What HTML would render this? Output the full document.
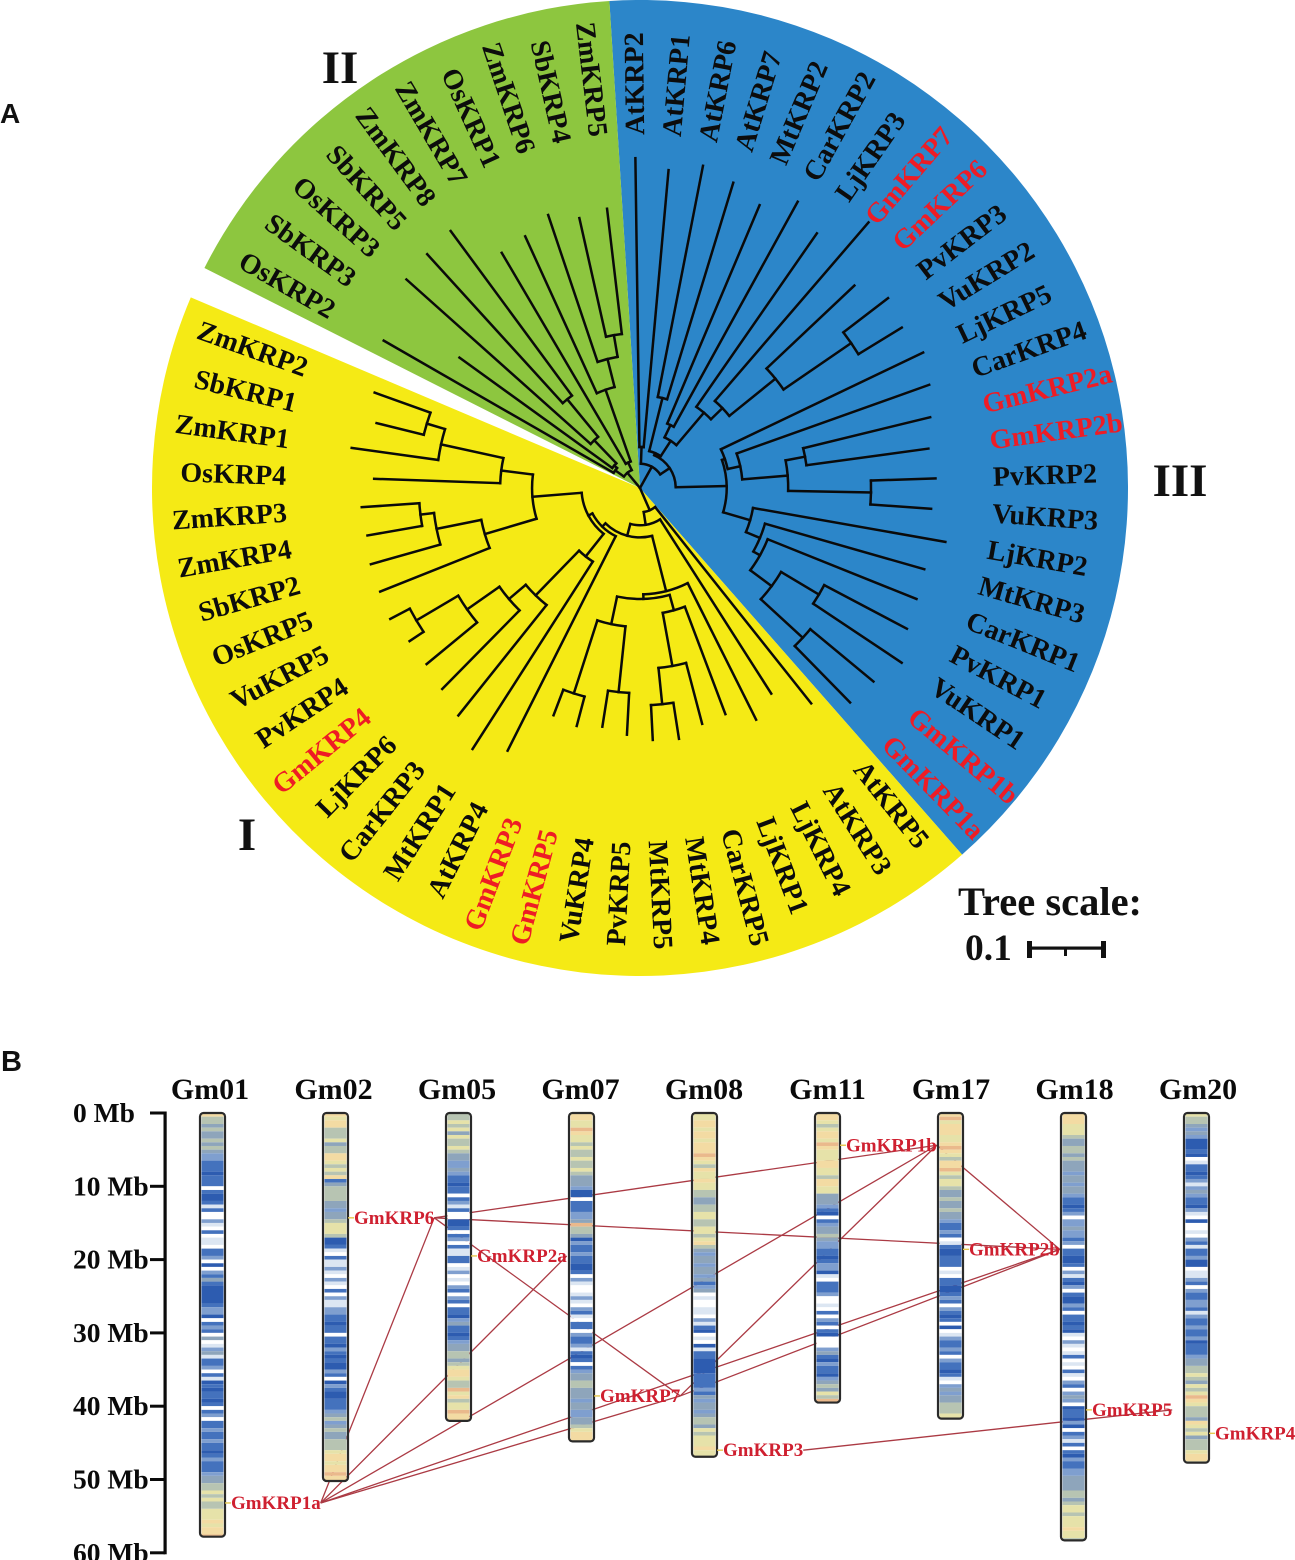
<!DOCTYPE html>
<html lang="en">
<head>
<meta charset="utf-8">
<title>KRP phylogenetic tree and chromosome map</title>
<style>
html,body{margin:0;padding:0;background:#fff;}
svg{display:block;}
text{font-family:"Liberation Serif",serif;font-weight:bold;}
</style>
</head>
<body>
<svg id="figure" xmlns="http://www.w3.org/2000/svg" width="1295" height="1560" viewBox="0 0 1295 1560">
  <rect x="0" y="0" width="1295" height="1560" fill="#fff"/>
  <g id="sectors"></g>
  <g id="branches" fill="none" stroke="#0a0a0a" stroke-width="2.5" stroke-linecap="square"></g>
  <g id="leafLabels" font-size="28"></g>
  <text x="0" y="123" font-size="28" style="font-family:'Liberation Sans',sans-serif" fill="#111">A</text>
  <text x="1" y="1071" font-size="29" style="font-family:'Liberation Sans',sans-serif" fill="#111">B</text>
  <text x="340" y="83" font-size="47" text-anchor="middle" fill="#111">II</text>
  <text x="1180" y="496" font-size="47" text-anchor="middle" fill="#111">III</text>
  <text x="247" y="850" font-size="47" text-anchor="middle" fill="#111">I</text>
  <text x="958" y="915" font-size="40.5" fill="#111">Tree scale:</text>
  <text x="965" y="960" font-size="37.5" fill="#111">0.1</text>
  <g fill="#111">
    <rect x="1027" y="946.5" width="78" height="3.2"/>
    <rect x="1027" y="941" width="5" height="17"/>
    <rect x="1101" y="941" width="5" height="17"/>
    <rect x="1064" y="949" width="3" height="7"/>
  </g>
  <g id="axis"></g>
  <g id="links" fill="none" stroke="#ab3a44" stroke-width="1.3"></g>
  <g id="chromosomes"></g>
  <g id="genes"></g>
</svg>
<script>
/* ---------- Panel A data ---------- */
const leafNames = ["AtKRP2","AtKRP1","AtKRP6","AtKRP7","MtKRP2","CarKRP2","LjKRP3","GmKRP7","GmKRP6","PvKRP3","VuKRP2","LjKRP5","CarKRP4","GmKRP2a","GmKRP2b","PvKRP2","VuKRP3","LjKRP2","MtKRP3","CarKRP1","PvKRP1","VuKRP1","GmKRP1b","GmKRP1a",
"AtKRP5","AtKRP3","LjKRP4","LjKRP1","CarKRP5","MtKRP4","MtKRP5","PvKRP5","VuKRP4","GmKRP5","GmKRP3","AtKRP4","MtKRP1","CarKRP3","LjKRP6","GmKRP4","PvKRP4","VuKRP5","OsKRP5","SbKRP2","ZmKRP4","ZmKRP3","OsKRP4","ZmKRP1","SbKRP1","ZmKRP2",
"OsKRP2","SbKRP3","OsKRP3","SbKRP5","ZmKRP8","ZmKRP7","OsKRP1","ZmKRP6","SbKRP4","ZmKRP5"];
/* root-to-tip distance of every leaf, in tree-scale units */
const leafDistances = [.434,.420,.432,.420,.404,.430,.408,.461,.388,.411,.404,.413,.404,.393,.383,.389,.384,.408,.389,.392,.397,.414,.399,.395,
.362,.321,.341,.318,.321,.334,.332,.325,.318,.324,.320,.387,.408,.383,.371,.364,.364,.371,.368,.368,.364,.367,.350,.383,.357,.371,
.389,.293,.412,.416,.420,.359,.364,.379,.364,.370];
/* tree topology: [node distance, child, child]; an integer child is a leaf index */
const blueClade = [.032,[.054,0,1],[.047,
  [.050,[.122,2,3],[.074,[.092,4,5],[.130,6,[.151,7,[.229,8,[.337,9,10]]]]]],
  [.114,
    [.118,11,[.135,12,[.195,[.221,13,14],[.304,15,16]]]],
    [.151,17,[.171,18,[.181,19,[.216,[.274,20,21],[.291,22,23]]]]]
  ]]];
const yellowClade = [.032,24,[.049,25,[.065,
  [.140,26,[.146,[.167,27,[.238,[.286,29,30],28]],[.183,[.270,31,32],[.284,33,34]]]],
  [.071,35,[.077,
    [.115,36,[.197,37,[.226,38,[.278,39,[.342,40,41]]]]],
    [.142,
      [.184,46,[.268,47,[.293,48,49]]],
      [.213,42,[.273,43,[.291,44,45]]]
    ]]]]]];
const greenClade = [.026,[.040,50,[.045,51,[.087,52,[.151,53,54]]]],[.037,55,[.137,56,[.175,57,[.204,58,59]]]]];
const cladeNames = ["clade-iii-sector","clade-i-sector","clade-ii-sector"];
const cladeStartAngles = [-3.6,138.7,296.8];
const cladeEndAngles = [138.7,293,356.4];
const cladeColors = ["#2c86c9","#f5ea15","#8dc63f"];

/* ---------- Panel B data ---------- */
const axisTicks = [0,10,20,30,40,50,60];
const chromosomeNames = ["Gm01","Gm02","Gm05","Gm07","Gm08","Gm11","Gm17","Gm18","Gm20"];
const chromosomeLengths = [57.8,50.2,42,44.8,46.9,39.5,41.7,58.3,47.7];
/* one digit per 0.5 Mb: gene-density class, see bandPalette */
const bandPalette = ["#ffffff","#dce6f2","#7f9fcf","#4472bd","#2d5cb0","#8ea5bb","#b7c4b2","#e6e2a9","#f3dba3","#eab98c"];
const chromosomeBands = [
"86 65 65 56 56 52 23 33 43 33 03 44 31 30 02 10 30 11 03 32 04 02 35 34 44 44 32 24 03 23 05 01 25 13 32 03 14 34 33 43 03 20 33 23 32 33 43 23 33 25 56 67 67 66 77 78 78 89",
"87 88 66 67 56 68 87 67 68 35 66 66 55 25 56 77 76 44 31 03 11 21 02 10 30 21 12 23 34 33 03 34 23 43 44 23 04 23 44 33 32 56 25 65 56 66 78 87 88 98 8",
"66 76 75 76 67 65 52 25 23 34 33 03 21 30 04 43 03 20 31 13 30 12 01 02 30 23 03 34 25 33 43 25 56 65 67 88 76 69 78 67 79 88",
"88 77 98 77 67 66 76 67 65 55 24 40 33 32 25 96 65 42 33 23 34 43 02 10 01 21 02 31 03 30 23 32 13 43 03 25 56 65 55 25 52 25 56 78 88",
"77 88 78 87 88 89 87 68 77 87 76 65 56 67 76 67 76 78 65 25 52 55 25 32 50 10 01 10 21 34 01 04 13 34 44 43 33 32 35 25 52 56 65 76 77 78 77",
"88 76 78 87 98 77 78 87 76 88 77 55 52 34 03 25 56 52 23 34 32 24 10 33 32 00 10 30 23 03 40 00 25 34 23 34 25 65 76 9",
"89 78 88 77 89 87 68 89 76 77 65 56 55 65 52 33 23 01 34 43 33 01 03 34 43 23 02 34 30 40 12 33 23 02 33 43 10 25 25 56 66 77",
"88 87 77 65 56 65 65 55 25 52 55 23 34 32 02 25 22 32 03 34 43 02 13 42 03 44 23 03 34 34 10 21 01 30 10 31 02 30 25 20 43 34 24 03 21 30 34 23 32 25 55 56 65 67 76 77 78 77 6",
"76 65 25 24 44 34 01 33 43 21 25 23 34 21 04 00 10 23 13 32 44 01 12 30 23 32 23 12 33 23 32 43 33 25 56 67 65 76 79 87 66 65 87 67 56 66 78 87"
];
const geneNames = ["GmKRP1a","GmKRP6","GmKRP2a","GmKRP7","GmKRP3","GmKRP1b","GmKRP2b","GmKRP5","GmKRP4"];
const geneChromosomes = [0,1,2,3,4,5,6,7,8];
const genePositionsMb = [53.2,14.3,19.5,38.6,46,4.4,18.6,40.5,43.7];
const linkSources = ["GmKRP1a","GmKRP1a","GmKRP1a","GmKRP1a","GmKRP1a","GmKRP6","GmKRP6","GmKRP6","GmKRP7","GmKRP7","GmKRP1b","GmKRP3"];
const linkTargets = ["GmKRP6","GmKRP2a","GmKRP1b","GmKRP7","GmKRP2b","GmKRP2b","GmKRP1b","GmKRP7","GmKRP1b","GmKRP2b","GmKRP2b","GmKRP5"];

/* ---------- helpers ---------- */
const SVG_NS = "http://www.w3.org/2000/svg";
const CX = 640, CY = 488, OUTER_R = 488;
const rScale = d => d * 760;               /* 0.1 tree units = 76 px */
const angleScale = i => -0.8 + 5.93 * i + (i >= 50 ? 4.2 : 0);
const polar = (r, a) => {
  const t = a * Math.PI / 180;
  return [CX + r * Math.sin(t), CY - r * Math.cos(t)];
};
const fmt = n => n.toFixed(2);
function make(tag, parent, attrs) {
  const el = document.createElementNS(SVG_NS, tag);
  for (const k in attrs) el.setAttribute(k, attrs[k]);
  parent.appendChild(el);
  return el;
}

/* ---------- sectors ---------- */
const sectorGroup = document.getElementById("sectors");
cladeNames.forEach((name, i) => {
  const [x1, y1] = polar(OUTER_R, cladeStartAngles[i]);
  const [x2, y2] = polar(OUTER_R, cladeEndAngles[i]);
  const large = cladeEndAngles[i] - cladeStartAngles[i] > 180 ? 1 : 0;
  const p = make("path", sectorGroup, {
    d: `M${CX} ${CY}L${fmt(x1)} ${fmt(y1)}A${OUTER_R} ${OUTER_R} 0 ${large} 1 ${fmt(x2)} ${fmt(y2)}Z`,
    fill: cladeColors[i]
  });
  
  
});

/* ---------- tree ---------- */
const branchGroup = document.getElementById("branches");
function addBranch(d) {
  const p = make("path", branchGroup, { d: d });
  
  
}
function radial(r1, r2, a) {
  const [x1, y1] = polar(r1, a), [x2, y2] = polar(r2, a);
  addBranch(`M${fmt(x1)} ${fmt(y1)}L${fmt(x2)} ${fmt(y2)}`);
}
function drawNode(node, parentR) {
  if (typeof node === "number") {
    const a = angleScale(node);
    radial(parentR, rScale(leafDistances[node]), a);
    return a;
  }
  const r = rScale(node[0]);
  const angles = node.slice(1).map(c => drawNode(c, r));
  const lo = Math.min(...angles), hi = Math.max(...angles);
  const [x1, y1] = polar(r, lo), [x2, y2] = polar(r, hi);
  addBranch(`M${fmt(x1)} ${fmt(y1)}A${fmt(r)} ${fmt(r)} 0 0 1 ${fmt(x2)} ${fmt(y2)}`);
  const mid = (lo + hi) / 2;
  radial(parentR, r, mid);
  return mid;
}
[blueClade, yellowClade, greenClade].forEach(c => drawNode(c, 0));

/* ---------- leaf labels ---------- */
const leafGroup = document.getElementById("leafLabels");
leafNames.forEach((name, i) => {
  const a = angleScale(i);
  const right = a < 180;
  const [x, y] = polar(right ? 353 : 354, a);
  const rot = right ? a - 90 : a + 90;
  const t = make("text", leafGroup, {
    x: fmt(x), y: fmt(y), dy: "0.33em",
    "text-anchor": right ? "start" : "end",
    transform: `rotate(${fmt(rot)} ${fmt(x)} ${fmt(y)})`,
    fill: name.startsWith("Gm") ? "#ee1c25" : "#0c0c0c"
  });
  t.textContent = name;
  
  
});

/* ---------- axis ---------- */
const mbY = mb => 1113 + 7.33 * mb;
const axisGroup = document.getElementById("axis");
const axisLine = make("rect", axisGroup, { x: 163.5, y: mbY(0) - 1.5, width: 3.2, height: mbY(60) - mbY(0) + 3, fill: "#0a0a0a" });


axisTicks.forEach(t => {
  const tick = make("rect", axisGroup, { x: 150, y: mbY(t) - 1.5, width: 15, height: 3, fill: "#0a0a0a" });
  
  
  const label = make("text", axisGroup, { x: 73, y: mbY(t) + 9, "font-size": 27.5, fill: "#0a0a0a" });
  label.textContent = t + " Mb";
  
  
});

/* ---------- chromosomes ---------- */
const chrLeft = i => 200 + 123 * i;
const CHR_W = 25;
const chrGroup = document.getElementById("chromosomes");
chromosomeNames.forEach((name, i) => {
  const title = make("text", chrGroup, { x: 210 + 123.5 * i, y: 1099, "font-size": 30, "text-anchor": "middle", fill: "#0a0a0a" });
  title.textContent = name;
  
  
  const x = chrLeft(i);
  const bands = chromosomeBands[i].replace(/ /g, "");
  const length = chromosomeLengths[i];
  let start = 0;
  for (let b = 1; b <= bands.length; b++) {
    if (b < bands.length && bands[b] === bands[start]) continue;
    const fromMb = start * 0.5;
    const toMb = Math.min(b * 0.5, length);
    if (toMb > fromMb) {
      const band = make("rect", chrGroup, {
        x: x + 1.5, y: fmt(mbY(fromMb)), width: CHR_W - 3,
        height: fmt(mbY(toMb) - mbY(fromMb)),
        fill: bandPalette[+bands[start]]
      });
      
      
    }
    start = b;
  }
  const outline = make("rect", chrGroup, {
    x: x, y: mbY(0), width: CHR_W, height: fmt(mbY(length) - mbY(0)),
    rx: 3.5, fill: "none", stroke: "#2a2a2a", "stroke-width": 2.2
  });
  
  
});

/* ---------- genes and links ---------- */
const geneGroup = document.getElementById("genes");
const anchors = {};
geneNames.forEach((name, i) => {
  const right = chrLeft(geneChromosomes[i]) + CHR_W;
  const y = mbY(genePositionsMb[i]);
  const tick = make("line", geneGroup, { x1: right, y1: y, x2: right + 6, y2: y, stroke: "#e6c84e", "stroke-width": 1.4 });
  
  
  const label = make("text", geneGroup, { x: right + 6, y: y + 6, "font-size": 19, fill: "#cf2030" });
  label.textContent = name;
  
  
  anchors[name] = [right + 6 + label.getComputedTextLength(), y];
});
const linkGroup = document.getElementById("links");
linkSources.forEach((src, i) => {
  const a = anchors[src], b = anchors[linkTargets[i]];
  const l = make("line", linkGroup, { x1: fmt(a[0]), y1: fmt(a[1]), x2: fmt(b[0]), y2: fmt(b[1]) });
  
  
});
</script>
</body>
</html>
